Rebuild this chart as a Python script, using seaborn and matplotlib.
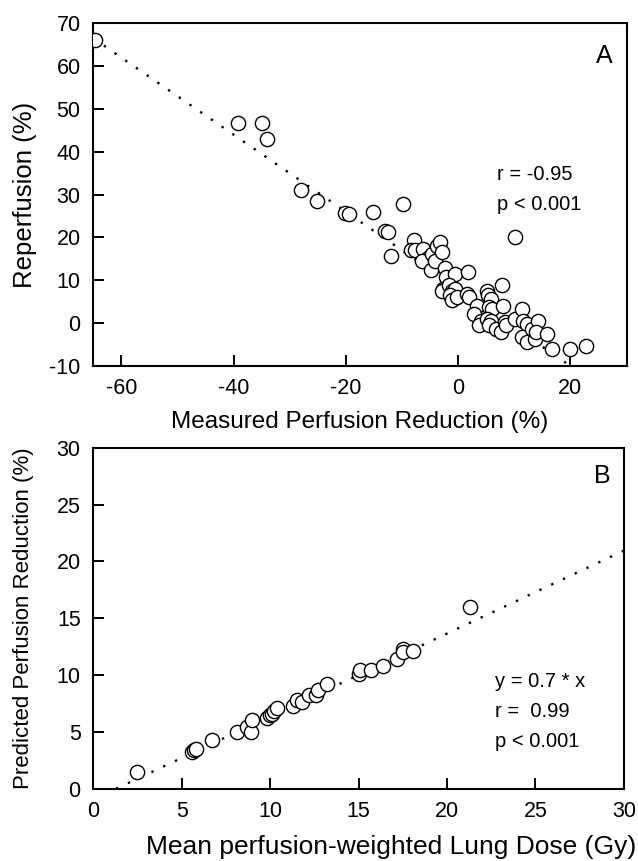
import numpy as np
import pandas as pd
import matplotlib
matplotlib.use("Agg")
import matplotlib.pyplot as plt
import seaborn as sns

# Panel A: measured perfusion reduction vs reperfusion (%)
measured_reduction = [
    -64.6, -39.2, -34.9, -34.1, -28.0, -25.1, -20.1, -19.4, -15.1, -9.9,
    -13.1, -12.5, -11.9, -7.8, -8.3, -7.7, -6.2, -5.4, -6.4, -4.7,
    -4.8, -4.1, -3.8, -3.2, -2.8, -2.3, -2.2, -0.6, 1.7, -2.6,
    -2.9, -1.7, -1.1, -0.5, -1.4, -1.1, -0.2, 1.6, 1.9, 3.4,
    2.8, 4.0, 3.7, 5.2, 5.4, 5.8, 7.8, 5.5, 6.1, 8.0,
    5.2, 5.8, 5.5, 6.7, 7.7, 8.3, 8.6, 10.2, 11.4, 11.6,
    12.2, 11.3, 12.2, 13.1, 13.7, 14.3, 13.9, 15.8, 16.7, 20.0,
    22.7, 10.2,
]
reperfusion = [
    66.0, 46.8, 46.8, 43.0, 31.1, 28.4, 25.8, 25.4, 25.9, 27.9,
    21.6, 21.3, 15.6, 19.3, 17.0, 17.0, 17.4, 15.3, 14.6, 16.2,
    12.3, 14.6, 18.1, 18.9, 16.6, 12.9, 10.7, 11.5, 11.9, 8.0,
    7.6, 8.8, 7.6, 8.0, 6.5, 5.3, 6.1, 6.9, 6.1, 4.1,
    2.2, 0.6, -0.5, 7.6, 6.5, 5.7, 9.0, 3.7, 3.4, 4.1,
    1.0, 0.6, -0.5, -1.3, -2.1, 0.2, -0.5, 1.0, 3.3, 0.6,
    -0.2, -3.3, -4.4, -1.3, -3.7, 0.6, -2.1, -2.5, -6.0, -6.0,
    -5.4, 20.1,
]
fit_a_slope, fit_a_intercept = -0.9, 8.0
fit_a_range = [-65.0, 20.5]

# Panel B: mean perfusion-weighted lung dose vs predicted perfusion reduction
lung_dose = [
    2.5, 5.56, 5.7, 5.8, 6.7, 8.15, 8.7, 8.9, 8.96, 9.8,
    10.0, 10.1, 10.2, 10.4, 11.3, 11.5, 11.8, 12.2, 12.6, 12.7,
    13.2, 15.0, 15.1, 15.7, 16.4, 17.2, 17.5, 17.5, 18.1, 21.3,
]
predicted_reduction = [
    1.5, 3.2, 3.4, 3.5, 4.25, 5.0, 5.4, 5.0, 6.0, 6.2,
    6.5, 6.6, 6.8, 7.1, 7.3, 7.8, 7.6, 8.2, 8.2, 8.7,
    9.2, 10.1, 10.4, 10.4, 10.8, 11.4, 12.3, 12.0, 12.1, 16.0,
]
fit_b_slope, fit_b_intercept = 0.73, -0.95
fit_b_range = [1.3, 30.0]

df_a = pd.DataFrame({"x": measured_reduction, "y": reperfusion})
df_b = pd.DataFrame({"x": lung_dose, "y": predicted_reduction})

sns.set_style("ticks")
plt.rcParams['font.family'] = ['Liberation Sans', 'DejaVu Sans']
plt.rcParams['axes.unicode_minus'] = False
plt.rcParams['text.color'] = 'black'
plt.rcParams['axes.labelcolor'] = 'black'
plt.rcParams['xtick.color'] = 'black'
plt.rcParams['ytick.color'] = 'black'
plt.rcParams['xtick.direction'] = 'in'
plt.rcParams['ytick.direction'] = 'in'
plt.rcParams['xtick.major.size'] = 8
plt.rcParams['ytick.major.size'] = 8
plt.rcParams['xtick.major.width'] = 1.4
plt.rcParams['ytick.major.width'] = 1.4

fig = plt.figure(figsize=(6.38, 8.61), dpi=100)
ax_a = fig.add_axes([0.146, 0.575, 0.836, 0.398])
ax_b = fig.add_axes([0.146, 0.084, 0.832, 0.396])


def draw_panel(ax, df, slope, intercept, xr):
    lx = np.array(xr)
    line_df = pd.DataFrame({"x": lx, "y": slope * lx + intercept})
    sns.lineplot(data=line_df, x="x", y="y", ax=ax, color="black",
                 linestyle=(0, (1, 4.5)), linewidth=1.7)
    sns.scatterplot(data=df, x="x", y="y", ax=ax, s=105, facecolor="white",
                    edgecolor="black", linewidth=1.0, zorder=3)
    for s in ax.spines.values():
        s.set_linewidth(1.5)
        s.set_color("black")
        s.set_visible(True)
    ax.tick_params(axis="both", which="major", direction="in", length=8,
                   width=1.4, labelsize=15.5, pad=9, colors="black",
                   bottom=True, left=True, top=False, right=False)


draw_panel(ax_a, df_a, fit_a_slope, fit_a_intercept, fit_a_range)
ax_a.set_xlim(-65, 30)
ax_a.set_ylim(-10, 70)
ax_a.set_xticks([-60, -40, -20, 0, 20])
ax_a.set_yticks(range(-10, 71, 10))
ax_a.set_xlabel("Measured Perfusion Reduction (%)", fontsize=17.5, labelpad=8)
ax_a.set_ylabel("Reperfusion (%)", fontsize=18.5, labelpad=9)
ax_a.text(0.974, 0.905, "A", transform=ax_a.transAxes, fontsize=18,
          ha="right", va="center")
ax_a.text(0.757, 0.56, "r = -0.95", transform=ax_a.transAxes, fontsize=14.5,
          ha="left", va="center")
ax_a.text(0.757, 0.47, "p < 0.001", transform=ax_a.transAxes, fontsize=14.5,
          ha="left", va="center")

draw_panel(ax_b, df_b, fit_b_slope, fit_b_intercept, fit_b_range)
ax_b.set_xlim(0, 30)
ax_b.set_ylim(0, 30)
ax_b.set_xticks(range(0, 31, 5))
ax_b.set_yticks(range(0, 31, 5))
ax_b.set_xlabel("Mean perfusion-weighted Lung Dose (Gy)", fontsize=19, labelpad=9)
ax_b.xaxis.label.set_x(0.561)
ax_b.set_ylabel("Predicted Perfusion Reduction (%)", fontsize=16, labelpad=16)
ax_b.text(0.974, 0.918, "B", transform=ax_b.transAxes, fontsize=18,
          ha="right", va="center")
ax_b.text(0.757, 0.315, "y = 0.7 * x", transform=ax_b.transAxes, fontsize=14.5,
          ha="left", va="center")
ax_b.text(0.757, 0.227, "r =  0.99", transform=ax_b.transAxes, fontsize=14.5,
          ha="left", va="center")
ax_b.text(0.757, 0.139, "p < 0.001", transform=ax_b.transAxes, fontsize=14.5,
          ha="left", va="center")

fig.savefig("out.png", dpi=100, facecolor="white")
